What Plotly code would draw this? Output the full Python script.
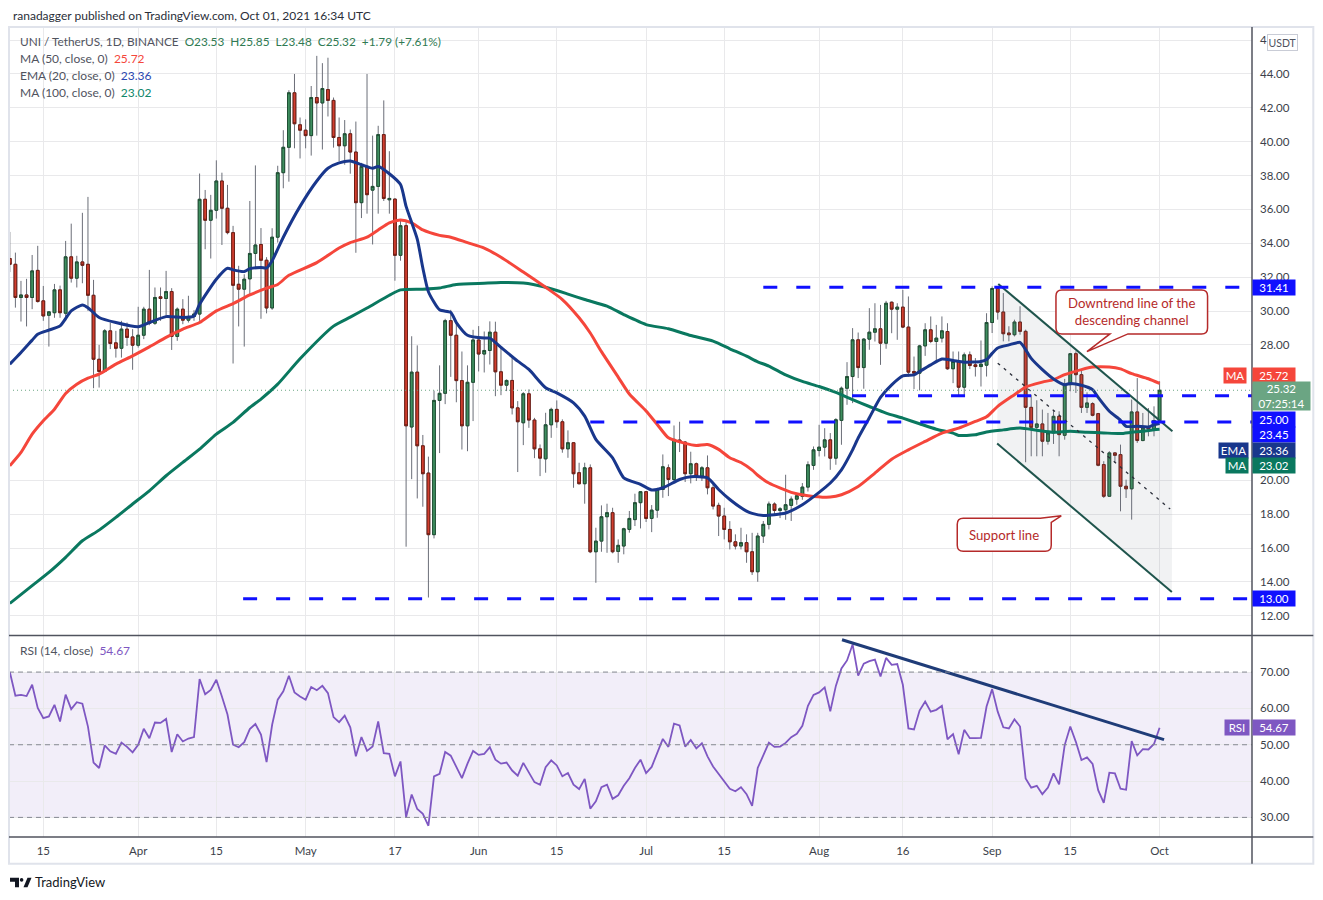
"""UNI / TetherUS 1D chart: candles, MA50, EMA20, MA100, RSI and a descending channel."""

import pandas as pd
import plotly.graph_objects as go

START = pd.Timestamp("2021-03-15")   # day 0 of the day offsets below
FIRST_DAY = -6                        # first candle is 2021-03-09

# daily candles 2021-03-09 .. 2021-10-01, ten per row
open_ = [
    33.10, 32.76, 30.80, 30.95, 30.80, 32.40, 30.60, 29.75, 29.90, 31.25,
    29.87, 33.20, 31.94, 32.90, 32.76, 30.93, 27.15, 26.43, 28.83, 28.12,
    27.80, 28.93, 28.47, 27.98, 28.57, 30.11, 29.28, 30.84, 30.74, 31.15,
    28.50, 30.11, 29.46, 29.68, 29.82, 36.60, 35.36, 35.95, 37.68, 36.07,
    34.63, 31.58, 31.29, 31.90, 33.40, 33.93, 33.00, 30.18, 34.36, 38.17,
    39.67, 42.89, 41.00, 40.68, 40.36, 42.61, 42.29, 43.08, 42.44, 40.25,
    39.76, 40.47, 39.39, 36.40, 38.54, 37.14, 37.36, 40.42, 36.57, 36.61,
    33.29, 35.04, 23.15, 26.39, 22.04, 20.43, 16.79, 24.72, 25.14, 29.43,
    28.57, 25.89, 23.22, 25.79, 28.29, 27.46, 27.67, 28.75, 26.41, 25.62,
    25.90, 24.28, 23.40, 25.11, 23.56, 21.86, 21.27, 23.28, 24.19, 23.46,
    21.86, 22.22, 20.45, 19.80, 20.74, 15.78, 16.41, 17.85, 18.09, 15.80,
    16.12, 17.10, 17.68, 18.68, 19.33, 17.75, 18.24, 19.46, 20.74, 20.05,
    22.38, 22.26, 20.39, 20.98, 20.25, 20.74, 19.56, 18.52, 17.89, 17.10,
    16.37, 16.12, 16.32, 15.78, 14.60, 16.71, 17.40, 18.60, 18.22, 18.26,
    18.52, 18.89, 19.05, 19.60, 20.88, 21.76, 21.96, 22.39, 21.31, 23.54,
    25.44, 26.13, 28.30, 26.66, 28.34, 28.75, 28.95, 28.10, 30.52, 30.11,
    30.23, 29.05, 26.43, 26.33, 27.94, 28.89, 28.20, 28.40, 28.79, 26.59,
    27.02, 25.50, 27.41, 26.82, 26.72, 26.80, 29.32, 31.33, 29.94, 28.70,
    28.60, 29.35, 28.80, 24.31, 23.13, 23.33, 22.31, 22.80, 23.78, 22.66,
    25.65, 27.48, 26.24, 24.31, 24.53, 23.94, 20.93, 19.06, 21.62, 21.52,
    19.65, 19.50, 24.04, 22.35, 23.13, 23.03, 23.53,
]
high_ = [
    34.67, 33.45, 31.78, 31.90, 33.31, 33.85, 31.48, 30.00, 31.60, 31.50,
    34.14, 35.16, 33.26, 35.80, 36.74, 31.84, 28.00, 28.93, 29.32, 28.83,
    29.42, 29.32, 28.93, 30.25, 30.25, 32.43, 31.39, 31.39, 32.37, 31.35,
    30.21, 30.70, 30.90, 30.05, 38.12, 37.15, 36.86, 38.90, 38.17, 37.45,
    35.03, 32.67, 32.17, 36.50, 38.60, 34.90, 33.18, 34.89, 38.58, 40.68,
    43.04, 44.00, 41.43, 41.32, 43.29, 45.07, 44.64, 44.96, 42.61, 41.43,
    41.28, 40.72, 41.19, 38.75, 44.00, 40.36, 40.94, 42.44, 39.44, 36.65,
    35.32, 35.32, 28.51, 27.97, 22.68, 21.40, 25.30, 26.79, 29.54, 30.07,
    29.43, 27.61, 26.79, 28.89, 29.11, 28.79, 29.39, 29.37, 27.93, 25.96,
    27.33, 24.68, 25.21, 25.37, 23.69, 22.12, 23.99, 24.29, 24.72, 23.60,
    22.95, 22.26, 21.04, 21.04, 20.94, 17.20, 18.52, 18.62, 18.38, 16.51,
    17.20, 18.19, 19.21, 19.37, 19.37, 18.54, 19.56, 21.53, 20.94, 23.24,
    23.46, 22.32, 21.69, 21.05, 20.84, 21.47, 19.76, 18.68, 18.38, 17.59,
    16.81, 17.20, 16.81, 16.90, 16.90, 17.60, 18.75, 18.70, 18.42, 20.33,
    19.05, 19.25, 19.84, 21.12, 22.00, 23.28, 23.08, 22.79, 23.67, 25.54,
    26.98, 28.99, 28.73, 28.40, 30.17, 30.46, 30.36, 30.60, 30.56, 30.46,
    31.25, 30.86, 27.31, 28.00, 29.28, 29.68, 29.18, 29.68, 29.28, 27.61,
    27.61, 27.55, 27.61, 27.22, 28.26, 29.87, 31.45, 31.46, 31.06, 29.10,
    29.49, 30.28, 28.90, 25.06, 24.73, 24.18, 23.98, 24.12, 24.08, 25.99,
    27.52, 27.62, 26.54, 25.20, 24.61, 23.98, 21.13, 21.72, 21.66, 22.11,
    20.04, 24.77, 26.04, 23.98, 24.27, 24.37, 25.85,
]
low_ = [
    32.30, 30.20, 29.38, 29.09, 30.11, 30.50, 29.42, 27.90, 29.60, 29.60,
    29.42, 31.68, 31.39, 31.64, 30.01, 25.44, 25.48, 26.37, 27.75, 27.25,
    27.25, 27.94, 26.53, 27.84, 28.34, 29.16, 29.18, 29.42, 29.62, 27.70,
    28.24, 29.22, 29.32, 29.42, 29.42, 33.65, 33.10, 35.46, 33.90, 34.53,
    26.90, 29.09, 27.90, 30.90, 32.60, 29.54, 29.86, 30.07, 34.04, 37.25,
    37.64, 39.61, 39.01, 39.61, 39.18, 40.36, 39.54, 41.49, 39.65, 38.86,
    38.64, 38.11, 33.44, 35.49, 35.75, 33.93, 35.75, 36.50, 35.75, 31.79,
    32.97, 16.08, 20.07, 18.93, 18.44, 13.08, 16.57, 21.61, 24.50, 26.11,
    24.61, 21.82, 21.72, 23.50, 26.43, 26.37, 26.84, 24.97, 25.03, 25.27,
    23.89, 20.49, 22.08, 23.10, 21.31, 20.25, 20.45, 22.51, 23.10, 21.63,
    21.33, 19.56, 19.76, 18.62, 15.70, 13.95, 15.78, 15.72, 15.69, 15.13,
    15.63, 16.91, 17.30, 17.16, 17.54, 16.94, 17.79, 18.97, 19.07, 19.96,
    21.67, 19.90, 19.82, 19.96, 19.96, 19.17, 18.28, 16.71, 16.51, 15.92,
    15.92, 15.92, 15.13, 14.41, 14.01, 16.30, 17.10, 17.97, 17.77, 17.67,
    17.60, 18.56, 18.85, 19.34, 20.62, 21.41, 21.41, 20.62, 20.92, 22.10,
    24.46, 24.56, 26.04, 25.41, 27.71, 28.20, 26.82, 27.77, 28.69, 28.30,
    28.99, 26.13, 25.39, 25.31, 27.35, 28.10, 27.02, 28.14, 26.53, 25.74,
    24.99, 24.99, 26.57, 26.13, 25.54, 26.13, 28.70, 29.49, 28.21, 28.21,
    28.50, 28.60, 21.07, 21.42, 21.42, 21.42, 22.11, 22.15, 21.42, 22.40,
    25.26, 25.16, 23.98, 23.98, 23.78, 20.83, 18.96, 19.02, 21.03, 18.17,
    18.96, 17.68, 22.21, 22.31, 22.60, 22.60, 23.48,
]
close_ = [
    32.76, 30.80, 30.95, 30.80, 32.37, 30.56, 29.71, 29.95, 31.25, 29.90,
    33.20, 31.94, 32.90, 32.70, 30.93, 27.15, 26.43, 28.83, 28.08, 27.80,
    28.93, 28.44, 27.98, 28.57, 30.11, 29.28, 30.80, 30.74, 31.15, 28.50,
    30.11, 29.46, 29.68, 29.82, 36.60, 35.36, 35.95, 37.68, 36.07, 34.63,
    31.52, 31.29, 31.88, 33.40, 33.90, 33.00, 30.18, 34.36, 38.17, 39.67,
    42.89, 41.06, 40.68, 40.36, 42.61, 42.29, 43.14, 42.44, 40.25, 39.76,
    40.47, 39.39, 36.40, 38.54, 36.87, 37.36, 40.42, 36.65, 36.65, 33.29,
    35.04, 23.22, 26.39, 22.04, 20.39, 16.79, 24.72, 25.14, 29.43, 28.57,
    25.89, 23.22, 25.79, 28.29, 27.46, 27.67, 28.75, 26.41, 25.62, 25.90,
    24.28, 23.46, 25.11, 23.56, 21.86, 21.31, 23.28, 24.19, 23.46, 21.86,
    22.22, 20.39, 19.80, 20.74, 15.78, 16.41, 17.85, 18.09, 15.78, 16.16,
    17.14, 17.75, 18.68, 19.33, 17.75, 18.24, 19.46, 20.80, 20.05, 22.42,
    22.26, 20.39, 20.98, 20.25, 20.74, 19.56, 18.48, 17.89, 17.10, 16.37,
    16.12, 16.32, 15.78, 14.60, 16.71, 17.40, 18.60, 18.22, 18.32, 18.56,
    18.89, 19.09, 19.60, 20.92, 21.80, 21.96, 22.39, 21.31, 23.58, 25.44,
    26.13, 28.30, 26.66, 28.34, 28.75, 28.95, 28.10, 30.46, 30.11, 30.23,
    29.05, 26.39, 26.33, 27.94, 28.89, 28.20, 28.40, 28.83, 26.59, 27.02,
    25.50, 27.41, 26.78, 26.72, 26.86, 29.32, 31.33, 29.94, 28.66, 28.60,
    29.35, 28.80, 24.31, 23.13, 23.33, 22.31, 22.80, 23.78, 22.70, 25.65,
    27.48, 26.24, 24.31, 24.57, 23.84, 20.89, 19.06, 21.62, 21.48, 19.65,
    19.50, 24.04, 22.35, 23.09, 23.03, 23.53, 25.32,
]
rsi = [
    70.0, 63.5, 63.7, 63.4, 66.5, 60.1, 57.3, 57.8, 61.0, 56.4,
    63.8, 59.8, 61.7, 61.3, 55.0, 45.1, 43.6, 49.8, 48.2, 47.5,
    50.6, 49.4, 47.9, 50.0, 54.4, 51.8, 56.1, 56.0, 57.1, 48.0,
    52.9, 50.9, 51.7, 52.1, 68.1, 63.9, 65.1, 67.9, 63.3, 58.3,
    50.0, 49.3, 50.7, 54.3, 55.7, 52.8, 45.2, 55.5, 62.4, 64.7,
    69.0, 64.4, 63.3, 62.4, 65.9, 65.0, 66.2, 64.2, 57.6, 56.2,
    58.0, 54.8, 46.8, 52.1, 48.3, 49.5, 56.4, 47.7, 47.5, 41.3,
    45.4, 30.1, 36.3, 32.3, 31.0, 27.7, 41.3, 42.0, 48.0, 47.0,
    43.9, 40.8, 44.8, 48.3, 47.2, 47.5, 49.3, 45.9, 44.8, 45.1,
    42.9, 41.5, 45.0, 42.5, 39.7, 39.0, 43.8, 45.7, 44.3, 41.3,
    42.2, 39.0, 37.8, 40.6, 32.4, 34.4, 38.3, 39.0, 35.1, 36.1,
    38.7, 40.8, 43.6, 45.9, 42.2, 43.9, 47.7, 51.6, 49.4, 55.8,
    55.3, 49.5, 51.3, 49.0, 50.4, 46.8, 44.0, 41.9, 39.9, 37.9,
    37.2, 38.3, 36.4, 33.2, 43.6, 47.0, 50.6, 49.4, 49.5, 50.5,
    52.1, 53.0, 55.2, 60.7, 63.7, 64.4, 65.8, 59.2, 66.2, 71.0,
    73.2, 77.6, 69.0, 72.3, 73.0, 73.4, 68.8, 73.9, 72.0, 72.2,
    66.5, 54.5, 54.2, 59.4, 61.9, 59.1, 59.6, 60.7, 51.5, 52.9,
    47.4, 54.1, 51.8, 51.8, 51.9, 60.5, 65.3, 59.1, 54.8, 54.5,
    57.0, 55.0, 40.7, 38.2, 38.7, 36.4, 38.2, 42.1, 39.1, 49.9,
    55.0, 50.8, 45.8, 46.5, 44.7, 37.5, 34.0, 42.3, 42.1, 37.9,
    37.6, 51.0, 47.1, 48.8, 48.7, 50.2, 54.67,
]

# moving averages (day offset from 2021-03-15, value)
ema20_day = [
    -6, -4, -2, -1, 1, 3, 5, 7, 8, 10, 13, 17, 19, 22, 25, 27, 28, 31, 33, 34,
    36, 37, 39, 40, 41, 43, 46, 49, 51, 53, 55, 57, 59, 60, 62, 64, 65, 67, 68, 69,
    71, 73, 74, 76, 79, 80, 82, 85, 87, 90, 92, 95, 97, 99, 102, 104, 107, 109, 111, 114,
    116, 119, 121, 123, 126, 127, 129, 133, 136, 139, 141, 143, 145, 146, 148, 150, 152, 154, 156, 157,
    159, 161, 163, 165, 168, 169, 170, 171, 173, 175, 176, 177, 179, 181, 183, 184, 186, 188, 189, 191,
    193, 194, 196, 198, 199, 200,
]
ema20_val = [
    26.86, 27.55, 28.28, 28.63, 28.87, 29.12, 30.01, 30.36, 30.20, 29.62,
    29.32, 29.07, 29.32, 29.67, 29.62, 29.71, 30.40, 31.88, 32.53, 32.43,
    32.33, 32.50, 32.57, 32.54, 32.97, 34.36, 36.18, 37.68, 38.43, 38.75,
    38.86, 38.64, 38.43, 38.54, 38.11, 37.47, 36.18, 34.25, 32.54, 31.14,
    30.07, 29.92, 29.32, 28.57, 28.40, 28.40, 27.85, 27.04, 26.55, 25.47,
    25.17, 24.58, 23.79, 22.42, 21.33, 20.15, 19.76, 19.43, 19.56, 20.05,
    20.21, 20.15, 19.46, 18.87, 18.18, 18.05, 17.93, 18.07, 18.56, 19.29,
    19.84, 20.62, 21.80, 22.50, 23.70, 24.90, 25.64, 26.17, 26.23, 26.43,
    26.82, 27.16, 27.08, 26.98, 27.02, 27.13, 27.50, 27.82, 28.00, 28.15,
    27.72, 27.20, 26.54, 25.99, 25.65, 25.72, 25.62, 25.36, 24.90, 24.08,
    23.55, 23.19, 23.19, 23.15, 23.28, 23.36,
]
ma50_day = [
    -6, -4, -2, 0, 2, 4, 6, 8, 10, 13, 16, 19, 22, 25, 28, 31, 34, 37, 40, 42,
    44, 49, 53, 55, 58, 60, 62, 64, 66, 68, 71, 73, 76, 79, 82, 86, 90, 93, 96, 98,
    100, 103, 105, 108, 110, 112, 115, 117, 119, 121, 123, 125, 127, 128, 130, 134, 137, 141, 143, 146,
    149, 152, 155, 158, 161, 164, 167, 169, 171, 174, 176, 179, 181, 183, 186, 188, 191, 193, 195, 198,
    200,
]
ma50_val = [
    20.86, 21.65, 22.73, 23.52, 24.20, 25.13, 25.68, 26.03, 26.27, 26.86,
    27.35, 27.88, 28.44, 28.93, 29.32, 30.01, 30.44, 30.95, 31.35, 31.57,
    32.11, 32.86, 33.72, 34.04, 34.36, 34.79, 35.21, 35.37, 35.21, 34.79,
    34.47, 34.36, 34.04, 33.72, 33.18, 32.30, 31.40, 30.68, 29.60, 28.70,
    27.60, 26.10, 25.10, 24.10, 23.30, 22.51, 22.18, 22.06, 22.12, 21.83,
    21.33, 21.05, 20.60, 20.30, 19.84, 19.29, 19.09, 19.01, 19.15, 19.64,
    20.43, 21.25, 21.80, 22.30, 22.79, 23.08, 23.48, 23.75, 24.37, 25.06,
    25.51, 25.80, 25.95, 26.24, 26.54, 26.69, 26.69, 26.58, 26.30, 26.00,
    25.72,
]
ma100_day = [
    -6, -2, 1, 4, 7, 10, 13, 16, 19, 22, 25, 28, 31, 34, 37, 39, 42, 46, 52, 55,
    58, 62, 64, 68, 71, 74, 79, 82, 86, 90, 94, 97, 101, 104, 108, 112, 116, 120, 123, 126,
    128, 130, 133, 136, 139, 142, 145, 148, 151, 154, 157, 160, 163, 164, 167, 169, 172, 175, 178, 181,
    184, 187, 190, 193, 195, 197, 199, 200,
]
ma100_val = [
    12.73, 13.78, 14.56, 15.45, 16.43, 17.06, 17.81, 18.60, 19.38, 20.27,
    21.06, 21.84, 22.73, 23.42, 24.30, 24.80, 25.68, 27.18, 29.11, 29.64,
    30.18, 30.93, 31.25, 31.29, 31.36, 31.57, 31.64, 31.68, 31.65, 31.40,
    31.00, 30.68, 30.29, 29.79, 29.20, 28.95, 28.55, 28.22, 27.77, 27.33,
    27.00, 26.75, 26.23, 25.84, 25.54, 25.19, 24.76, 24.36, 23.97, 23.67,
    23.34, 23.02, 22.79, 22.65, 22.69, 22.86, 22.98, 23.09, 22.96, 22.84,
    22.90, 22.84, 22.80, 22.76, 22.84, 22.90, 22.99, 23.02,
]

# drawn levels: price and the day the dashed line starts
level_price = [31.41, 25.00, 23.45, 13.00]
level_start = [129.0, 144.9, 98.0, 35.8]

# descending channel (day offset, price) end points
channel_top = [(171.1, 31.60), (202.3, 22.90)]
channel_mid = [(171.0, 26.92), (201.9, 18.30)]
channel_bot = [(170.9, 22.17), (202.2, 13.40)]
rsi_trend = [(143.1, 78.9), (200.8, 51.4)]

x_tick_day = [0, 17, 31, 47, 63, 78, 92, 108, 122, 139, 154, 170, 184, 200]
x_tick_text = ["15", "Apr", "15", "May", "17", "Jun", "15", "Jul", "15", "Aug", "16", "Sep", "15", "Oct"]
# price ticks; 22-26 sit under the value tags, 46 is clipped by the USDT box
y_tick_vals = [12, 14, 16, 18, 20, 28, 30, 32, 34, 36, 38, 40, 42, 44, 46]
y_tick_text = [f"{v:.2f}" for v in y_tick_vals[:-1]] + ["4"]

# ---------------------------------------------------------------- styling
FONT = "Lato, Roboto, sans-serif"
GRID = "#e9e9eb"
TXT = "#131722"
UP, UP_EDGE = "#3f8f60", "#1f4f33"
DOWN, DOWN_EDGE = "#d13e2f", "#6e1e14"
WICK = "#6b6e78"
RED_MA, BLUE_EMA, GREEN_MA = "#f5463b", "#19378c", "#0a785f"
LEVEL_BLUE = "#1010ff"
PURPLE = "#7e57c2"
NOTE_RED = "#b52a2a"

W, H = 1323, 900
PL, PR, PT, PB = 9, 1251.7, 27, 837.3      # plot area in page pixels
SPLIT = 635.7                               # border between price and RSI pane
FRAME_R, FRAME_B = 1313, 864


def day(d):
    return START + pd.Timedelta(days=d)


def fx(px):
    return (px - PL) / (PR - PL)


def fy(py):
    return (PB - py) / (PB - PT)


def price_at(py):       # price scale: 44 at y=74, 16.9375 px per unit
    return 44 - (py - 74) / 16.9375


def rsi_at(py):         # RSI scale: 70 at y=672.3, 3.635 px per unit
    return 70 - (py - 672.3) / 3.635


dates = [day(FIRST_DAY + i) for i in range(len(close_))]
body_hi = [max(o, c) for o, c in zip(open_, close_)]
body_lo = [min(o, c) for o, c in zip(open_, close_)]

fig = go.Figure()

# channel fill under the candles
fig.add_trace(go.Scatter(
    x=[day(channel_top[0][0]), day(channel_top[1][0]), day(channel_bot[1][0]), day(channel_bot[0][0])],
    y=[channel_top[0][1], channel_top[1][1], channel_bot[1][1], channel_bot[0][1]],
    fill="toself", fillcolor="rgba(120,123,134,0.10)", mode="none", hoverinfo="skip",
))

# wicks (full range) then bodies with dark outline on top
fig.add_trace(go.Candlestick(
    x=dates, open=open_, high=high_, low=low_, close=close_,
    increasing=dict(line=dict(color=WICK, width=1), fillcolor=UP),
    decreasing=dict(line=dict(color=WICK, width=1), fillcolor=DOWN),
    hoverinfo="skip",
))
fig.add_trace(go.Candlestick(
    x=dates, open=open_, high=body_hi, low=body_lo, close=close_,
    increasing=dict(line=dict(color=UP_EDGE, width=1), fillcolor=UP),
    decreasing=dict(line=dict(color=DOWN_EDGE, width=1), fillcolor=DOWN),
    hoverinfo="skip",
))

for days_, vals, color in [(ma100_day, ma100_val, GREEN_MA),
                           (ma50_day, ma50_val, RED_MA),
                           (ema20_day, ema20_val, BLUE_EMA)]:
    fig.add_trace(go.Scatter(
        x=[day(d) for d in days_], y=vals, mode="lines",
        line=dict(color=color, width=3, shape="spline", smoothing=0.6),
        hoverinfo="skip",
    ))

# channel lines
for pts, dash, color, width in [(channel_top, "solid", "#1f544c", 2),
                                (channel_bot, "solid", "#1f544c", 2),
                                (channel_mid, "3px,5px", "#2a2e39", 1.3)]:
    fig.add_trace(go.Scatter(
        x=[day(p[0]) for p in pts], y=[p[1] for p in pts], mode="lines",
        line=dict(color=color, width=width, dash=dash), hoverinfo="skip",
    ))

# RSI pane
fig.add_trace(go.Scatter(
    x=dates, y=rsi, yaxis="y2", mode="lines",
    line=dict(color=PURPLE, width=1.8), hoverinfo="skip",
))
fig.add_trace(go.Scatter(
    x=[day(p[0]) for p in rsi_trend], y=[p[1] for p in rsi_trend], yaxis="y2",
    mode="lines", line=dict(color="#1f3c78", width=3), hoverinfo="skip",
))

shapes = []
# RSI band and its dashed guides
shapes.append(dict(type="rect", xref="paper", yref="y2", x0=0, x1=1, y0=30, y1=70,
                   fillcolor="rgba(126,87,194,0.10)", line=dict(width=0), layer="below"))
for lvl in (70, 50, 30):
    shapes.append(dict(type="line", xref="paper", yref="y2", x0=0, x1=1, y0=lvl, y1=lvl,
                       line=dict(color="#868993", width=1, dash="5px,4px")))
# horizontal levels
for p, d0 in zip(level_price, level_start):
    shapes.append(dict(type="line", xref="x", yref="y", x0=day(d0), x1=day(240), y0=p, y1=p,
                       line=dict(color=LEVEL_BLUE, width=3, dash="14px,19px"), layer="above"))
# last price line
shapes.append(dict(type="line", xref="paper", yref="y", x0=0, x1=1, y0=close_[-1], y1=close_[-1],
                   line=dict(color="#6ba583", width=1, dash="1px,3px")))


def callout(tip_day, tip_price, path):
    return dict(type="path", xref="x", yref="y", xsizemode="pixel", ysizemode="pixel",
                xanchor=day(tip_day), yanchor=tip_price, path=path,
                fillcolor="white", line=dict(color=NOTE_RED, width=1.5), layer="above")


# call-out 1: box -31..120.6 px wide, 17.7..61.7 px above the tip
L, R, B, T, r = -31, 120.6, 17.7, 61.7, 6
path1 = (f"M{L+r},{T} L{R-r},{T} Q{R},{T} {R},{T-r} L{R},{B+r} Q{R},{B} {R-r},{B} "
         f"L41,{B} L0,0 L23,{B} L{L+r},{B} Q{L},{B} {L},{B+r} L{L},{T-r} Q{L},{T} {L+r},{T} Z")
# call-out 2: box left of the tip, tail from the top edge
L, R, B, T = -104, -10, -35.5, -2.5
path2 = (f"M{L+r},{T} L-21,{T} L0,0 L{R},{T-4} L{R},{B+r} Q{R},{B} {R-r},{B} "
         f"L{L+r},{B} Q{L},{B} {L},{B+r} L{L},{T-r} Q{L},{T} {L+r},{T} Z")
note1_tip = ((1086.7 - 43.3) / 5.58, price_at(351.7))
note2_tip = ((1061 - 43.3) / 5.58, price_at(516))
shapes.append(callout(note1_tip[0], note1_tip[1], path1))
shapes.append(callout(note2_tip[0], note2_tip[1], path2))

# frame and pane separators
shapes.append(dict(type="rect", xref="paper", yref="paper", x0=0, x1=fx(FRAME_R),
                   y0=fy(FRAME_B), y1=1, line=dict(color="#e0e3eb", width=2), layer="above"))
for y in (fy(SPLIT), 0):
    shapes.append(dict(type="line", xref="paper", yref="paper", x0=0, x1=fx(FRAME_R), y0=y, y1=y,
                       line=dict(color="#50535e", width=1.5), layer="above"))
shapes.append(dict(type="line", xref="paper", yref="paper", x0=1, x1=1, y0=fy(FRAME_B), y1=1,
                   line=dict(color="#50535e", width=1.5), layer="above"))

# TradingView logo
shapes.append(dict(type="path", xref="paper", yref="paper", fillcolor=TXT, line=dict(width=0),
                   path=f"M{fx(10)},{fy(878)} L{fx(19)},{fy(878)} L{fx(19)},{fy(887.5)} "
                        f"L{fx(15)},{fy(887.5)} L{fx(15)},{fy(882)} L{fx(10)},{fy(882)} Z"))
shapes.append(dict(type="circle", xref="paper", yref="paper", fillcolor=TXT, line=dict(width=0),
                   x0=fx(19.8), x1=fx(23.4), y0=fy(882), y1=fy(878.4)))
shapes.append(dict(type="path", xref="paper", yref="paper", fillcolor=TXT, line=dict(width=0),
                   path=f"M{fx(23.5)},{fy(887.5)} L{fx(27.5)},{fy(878)} L{fx(31.5)},{fy(878)} "
                        f"L{fx(27.5)},{fy(887.5)} Z"))

ann = []


def text_at(px, py, text, size=12, color=TXT, anchor="left"):
    ann.append(dict(xref="paper", yref="paper", x=fx(px), y=fy(py), text=text, showarrow=False,
                    xanchor=anchor, yanchor="middle", font=dict(size=size, color=color, family=FONT)))


def span(text, color):
    return f'<span style="color:{color}">{text}</span>'


chg = close_[-1] - close_[-2]
pct = chg / close_[-2] * 100
GREY = "#50535e"
OHLC_GREEN = "#2f7a52"
text_at(10.7, 15, "ranadagger published on TradingView.com, Oct 01, 2021 16:34 UTC", size=12, color="#2a2e39")
text_at(18, 42, span("UNI / TetherUS, 1D, BINANCE", GREY) + "&nbsp; " + span(
    f"O{open_[-1]:.2f}&nbsp; H{high_[-1]:.2f}&nbsp; L{low_[-1]:.2f}&nbsp; C{close_[-1]:.2f}"
    f"&nbsp; {chg:+.2f} ({pct:+.2f}%)", OHLC_GREEN), size=11.8)
text_at(18, 59, span("MA (50, close, 0)", GREY) + "&nbsp; " + span(f"{ma50_val[-1]:.2f}", RED_MA))
text_at(18, 76, span("EMA (20, close, 0)", GREY) + "&nbsp; " + span(f"{ema20_val[-1]:.2f}", "#2b47b0"))
text_at(18, 92.5, span("MA (100, close, 0)", GREY) + "&nbsp; " + span(f"{ma100_val[-1]:.2f}", "#10876a"))
text_at(18, 651, span("RSI (14, close)", GREY) + "&nbsp; " + span(f"{rsi[-1]:.2f}", PURPLE))
text_at(33.3, 882.5, "TradingView", size=13, color=TXT)

# call-out texts (pixel offsets from the tips)
for tip, txt, dx, dy in [(note1_tip, "Downtrend line of the<br>descending channel", 45, 40.5),
                         (note2_tip, "Support line", -57, -19)]:
    ann.append(dict(x=day(tip[0]), y=tip[1], xref="x", yref="y", xshift=dx, yshift=dy,
                    text=txt, showarrow=False, xanchor="center", yanchor="middle",
                    font=dict(size=13.2, color=NOTE_RED, family=FONT)))


def axis_label(text, y, bg, yref="y", yshift=0, width=42, height=15, tag=None, tag_w=22, tag_dx=-5):
    ann.append(dict(x=1, xref="paper", y=y, yref=yref, yshift=yshift, xanchor="left",
                    yanchor="middle", text=text, showarrow=False, bgcolor=bg, width=width,
                    height=height, borderpad=0,
                    font=dict(size=11.5, color="white", family=FONT)))
    if tag:
        ann.append(dict(x=1, xref="paper", y=y, yref=yref, yshift=yshift, xshift=tag_dx,
                        xanchor="right", yanchor="middle", text=tag, showarrow=False, bgcolor=bg,
                        width=tag_w, height=height, borderpad=0,
                        font=dict(size=11.5, color="white", family=FONT)))


axis_label(f"{level_price[0]:.2f}", level_price[0], LEVEL_BLUE)
axis_label(f"{ma50_val[-1]:.2f}", ma50_val[-1], RED_MA, yshift=7.7, tag="MA")
axis_label(f"{close_[-1]:.2f}<br>07:25:14", close_[-1], "#6ba583", yshift=-6, width=57, height=28)
axis_label(f"{level_price[1]:.2f}", level_price[1], LEVEL_BLUE, yshift=-24)
axis_label(f"{level_price[2]:.2f}", level_price[2], LEVEL_BLUE, yshift=-13)
axis_label(f"{ema20_val[-1]:.2f}", ema20_val[-1], BLUE_EMA, yshift=-27.4, tag="EMA", tag_w=29, tag_dx=-3.5)
axis_label(f"{ma100_val[-1]:.2f}", ma100_val[-1], GREEN_MA, yshift=-36.6, tag="MA", tag_dx=-3.5)
axis_label(f"{level_price[3]:.2f}", level_price[3], LEVEL_BLUE)
axis_label(f"{rsi[-1]:.2f}", rsi[-1], PURPLE, yref="y2", tag="RSI", tag_w=24, tag_dx=-2.5)

# currency box just right of the clipped top tick
ann.append(dict(xref="paper", yref="paper", x=fx(1282.5), y=fy(42.5), text="USDT", showarrow=False,
                xanchor="center", yanchor="middle", bgcolor="white", bordercolor="#c9ccd6",
                borderwidth=1, borderpad=1, width=27, height=13,
                font=dict(size=10.5, color=GREY, family=FONT)))

fig.update_layout(
    width=W, height=H,
    margin=dict(l=PL, r=W - PR, t=PT, b=H - PB, pad=0),
    paper_bgcolor="white", plot_bgcolor="white", showlegend=False,
    font=dict(family=FONT, size=11.5, color=TXT),
    xaxis=dict(
        domain=[0, 1], anchor="y2", type="date",
        range=[day((PL - 43.3) / 5.58), day((PR - 43.3) / 5.58)],
        tickvals=[day(d) for d in x_tick_day], ticktext=x_tick_text,
        showgrid=True, gridcolor=GRID, gridwidth=1, zeroline=False, showline=False,
        ticks="", ticklabelstandoff=5, tickfont=dict(size=11.5, color="#3b3f4a"),
        rangeslider=dict(visible=False), fixedrange=True,
    ),
    yaxis=dict(
        domain=[fy(SPLIT), 1], anchor="x", side="right",
        range=[price_at(SPLIT), price_at(PT)],
        tickvals=y_tick_vals, ticktext=y_tick_text,
        showgrid=True, gridcolor=GRID, zeroline=False, showline=False,
        ticks="", ticklabelstandoff=7, tickfont=dict(size=11.5, color="#3b3f4a"),
    ),
    yaxis2=dict(
        domain=[0, fy(SPLIT)], anchor="x", side="right",
        range=[rsi_at(PB), rsi_at(SPLIT)],
        tickvals=[30, 40, 50, 60, 70], tickformat=".2f",
        showgrid=True, gridcolor=GRID, zeroline=False, showline=False,
        ticks="", ticklabelstandoff=7, tickfont=dict(size=11.5, color="#3b3f4a"),
    ),
    shapes=shapes, annotations=ann,
)

fig.write_html(
    "out.html",
    config={"displayModeBar": False},
    post_script="document.body.style.margin='0';document.body.style.overflow='hidden';",
)
